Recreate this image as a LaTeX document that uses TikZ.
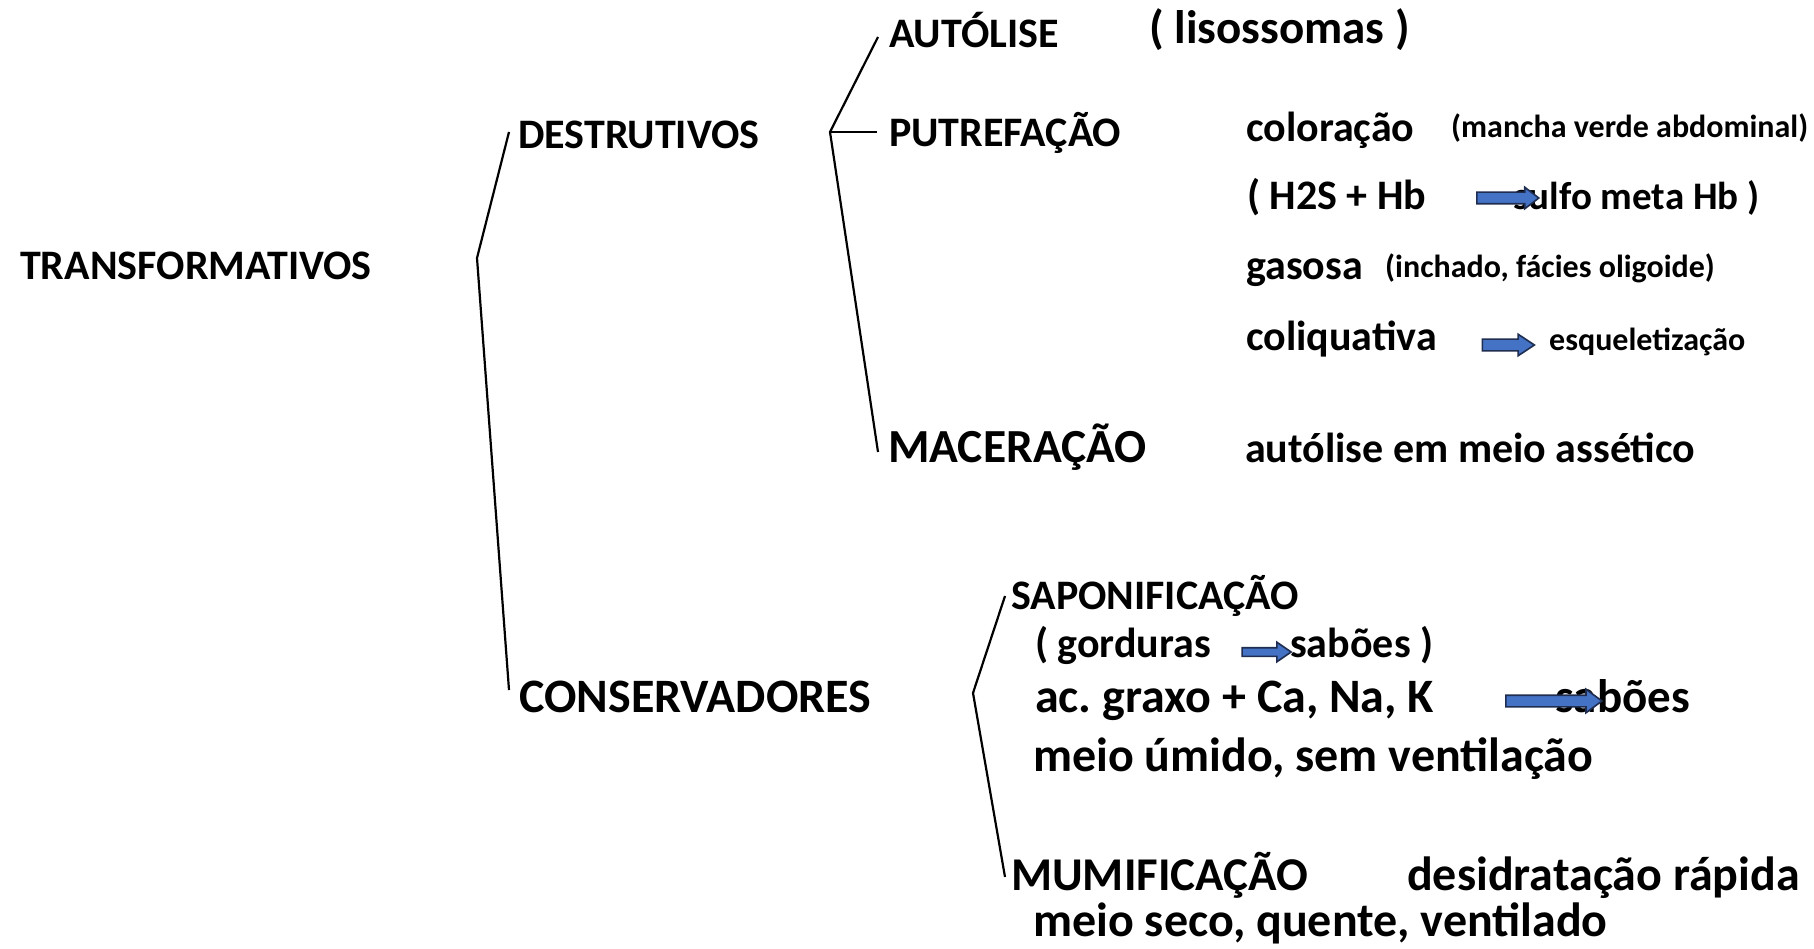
\documentclass[tikz,border=0pt]{standalone}
\usepackage{fontspec}
\setmainfont{Carlito}
\usetikzlibrary{shapes.arrows}
\definecolor{arrfill}{RGB}{68,114,196}
\definecolor{arrline}{RGB}{30,45,80}
\newcommand{\fsz}[1]{\fontsize{#1}{#1}\selectfont}
\frenchspacing
\tikzset{
	lbl/.style={anchor=base west, inner sep=0pt, font=\bfseries\fsz{42}},
	lblbig/.style={lbl, font=\bfseries\fsz{48}},
	lblsmall/.style={lbl, font=\bfseries\fsz{32}},
	brace/.style={line width=2.2pt},
	blockarr/.style={single arrow, draw=arrline, fill=arrfill, line width=1.6pt, inner xsep=0pt, inner ysep=5pt, single arrow head extend=5pt, single arrow head indent=0pt}
}
\begin{document}
\begin{tikzpicture}[x=1pt,y=-1pt]
	\useasboundingbox (0,0) rectangle (1814,949);

	\node[lbl] (transf) at (20, 280) {TRANSFORMATIVOS};
	\node[lbl] (destr) at (518, 149) {DESTRUTIVOS};
	\node[lblbig] (conserv) at (519, 712) {CONSERVADORES};

	\node[lbl] (autol) at (889, 48) {AUTÓLISE};
	\node[lblbig, font=\bfseries\fsz{47}] (lisos) at (1149, 44) {( lisossomas )};
	\node[lbl] (putref) at (889, 147) {PUTREFAÇÃO};
	\node[lblbig, font=\bfseries\fsz{47.5}] (macer) at (888, 462) {MACERAÇÃO};

	\node[lbl] (color) at (1246, 142) {coloração};
	\node[lblsmall] (mancha) at (1451, 138) {(mancha verde abdominal)};
	\node[lbl] (hbs) at (1247, 210) {( H2S + Hb};
	\node[lbl, font=\bfseries\fsz{39}] (sulfo) at (1513, 210) {sulfo meta Hb )};
	\node[lbl] (gasosa) at (1246, 280) {gasosa};
	\node[lblsmall] (inchado) at (1385, 278) {(inchado, fácies oligoide)};
	\node[lbl] (coliq) at (1246, 350) {coliquativa};
	\node[lblsmall] (esquel) at (1549, 350) {esqueletização};
	\node[lbl] (assept) at (1245, 462) {autólise em meio assético};

	\node[lbl] (sapon) at (1011, 609) {SAPONIFICAÇÃO};
	\node[lbl] (gord) at (1035, 657) {( gorduras};
	\node[lbl] (sabA) at (1290, 657) {sabões )};
	\node[lblbig] (graxo) at (1035, 712) {ac. graxo + Ca, Na, K};
	\node[lblbig, font=\bfseries\fsz{47}] (sabB) at (1555, 712) {sabões};
	\node[lblbig] (umido) at (1033, 771) {meio úmido, sem ventilação};
	\node[lblbig, font=\bfseries\fsz{47}] (mumif) at (1011, 890) {MUMIFICAÇÃO};
	\node[lblbig] (desid) at (1407, 890) {desidratação rápida};
	\node[lblbig] (seco) at (1033, 936) {meio seco, quente, ventilado};

	\node[blockarr, minimum height=62pt, single arrow tip angle=75] (arrA) at (1504, 198) {};
	\node[blockarr, minimum height=52pt, single arrow tip angle=67] (arrB) at (1504, 345) {};
	\node[blockarr, minimum height=49pt, inner ysep=3.5pt, single arrow head extend=5.5pt, single arrow tip angle=69] (arrC) at (1263.5, 652) {};
	\node[blockarr, minimum height=96pt, single arrow head extend=6pt, single arrow tip angle=73] (arrD) at (1550, 701) {};

	\coordinate (v1) at (477, 258);
	\coordinate (v2) at (830, 132);
	\coordinate (v3) at (973, 693);

	\draw[brace] ([xshift=-9pt,yshift=17pt]destr.base west) -- (v1) -- ([xshift=-10pt,yshift=22pt]conserv.base west);
	\draw[brace] ([xshift=-11pt,yshift=11pt]autol.base west) -- (v2) -- ([xshift=-10pt,yshift=10pt]macer.base west);
	\draw[brace] (v2) -- ([xshift=-12pt,yshift=15pt]putref.base west);
	\draw[brace] ([xshift=-6pt,yshift=13pt]sapon.base west) -- (v3) -- ([xshift=-6pt,yshift=13pt]mumif.base west);
\end{tikzpicture}
\end{document}
